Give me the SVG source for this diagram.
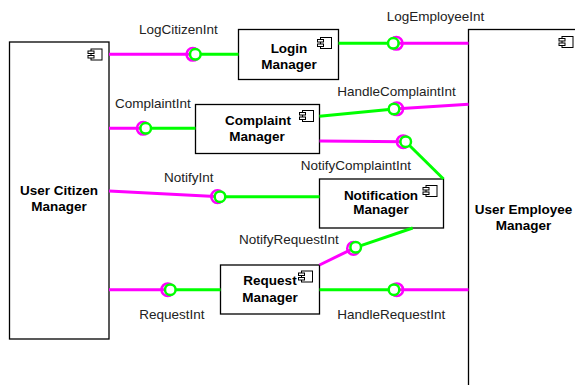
<svg xmlns="http://www.w3.org/2000/svg" xmlns:xlink="http://www.w3.org/1999/xlink" width="575" height="385" viewBox="0 0 575 385">
<style>
.box{fill:#fff;stroke:#000;stroke-width:1.3}
.ttl{font-family:"Liberation Sans",Arial,sans-serif;font-size:13.5px;font-weight:bold;text-anchor:middle;fill:#000}
.lbl{font-family:"Liberation Sans",Arial,sans-serif;font-size:13.5px;fill:#222}
.m{stroke:#ff00ff;stroke-width:3;fill:none}
.g{stroke:#00ff00;stroke-width:3;fill:none}
.sock{stroke:#ff00ff;stroke-width:2.5;fill:none}
.ball{stroke:#00ff00;stroke-width:2.5;fill:#fff}
</style>
<defs>
<g id="cmp">
<rect x="3" y="0" width="11" height="11" fill="#fff" stroke="#000" stroke-width="1"/>
<rect x="0" y="2" width="6" height="2.5" fill="#fff" stroke="#000" stroke-width="1"/>
<rect x="0" y="6.5" width="6" height="2.5" fill="#fff" stroke="#000" stroke-width="1"/>
</g>
</defs>
<rect width="575" height="385" fill="#fff"/>
<g id="nodes">
<g id="userCitizen">
<rect class="box" x="9.5" y="42" width="99.5" height="297"/>
<use xlink:href="#cmp" x="88" y="49"/>
<text class="ttl" x="59" y="195">User Citizen</text>
<text class="ttl" x="59" y="211">Manager</text>
</g>
<g id="login">
<rect class="box" x="238.5" y="29.5" width="100" height="50"/>
<use xlink:href="#cmp" x="317.5" y="37.5"/>
<text class="ttl" x="289" y="53">Login</text>
<text class="ttl" x="289" y="69">Manager</text>
</g>
<g id="complaint">
<rect class="box" x="195.5" y="104.5" width="124" height="49"/>
<use xlink:href="#cmp" x="299.5" y="110.5"/>
<text class="ttl" x="258" y="125">Complaint</text>
<text class="ttl" x="257" y="141">Manager</text>
</g>
<g id="notification">
<rect class="box" x="319.5" y="179" width="124" height="49"/>
<use xlink:href="#cmp" x="423" y="185.5"/>
<text class="ttl" x="381" y="199.5">Notification</text>
<text class="ttl" x="381" y="214">Manager</text>
</g>
<g id="request">
<rect class="box" x="220.5" y="265" width="99" height="49"/>
<use xlink:href="#cmp" x="298.5" y="271"/>
<text class="ttl" x="270" y="285">Request</text>
<text class="ttl" x="270" y="301.5">Manager</text>
</g>
<g id="userEmployee">
<rect class="box" x="468.5" y="29.5" width="110" height="400"/>
<use xlink:href="#cmp" x="559" y="36.5"/>
<text class="ttl" x="523.5" y="214">User Employee</text>
<text class="ttl" x="523.5" y="229.5">Manager</text>
</g>
</g>
<g id="connectors">
<line class="m" x1="109" y1="54.3" x2="195.3" y2="54.3"/>
<line class="g" x1="195.3" y1="54.3" x2="238.5" y2="54.3"/>
<line class="g" x1="338.5" y1="43.3" x2="393.3" y2="43.3"/>
<line class="m" x1="393.3" y1="43.3" x2="468.5" y2="43.3"/>
<line class="m" x1="109" y1="128.3" x2="145.7" y2="128.3"/>
<line class="g" x1="145.7" y1="128.3" x2="195.5" y2="128.3"/>
<line class="g" x1="319.5" y1="116.3" x2="394" y2="109"/>
<line class="m" x1="394" y1="109" x2="468.5" y2="104.3"/>
<line class="m" x1="319.5" y1="141" x2="405.7" y2="141.7"/>
<line class="g" x1="405.7" y1="141.7" x2="443.5" y2="179"/>
<line class="m" x1="109" y1="191" x2="220" y2="196.7"/>
<line class="g" x1="220" y1="196.7" x2="319.5" y2="196.7"/>
<line class="g" x1="412.7" y1="228" x2="355.7" y2="247.3"/>
<line class="m" x1="355.7" y1="247.3" x2="319.5" y2="265"/>
<line class="m" x1="109" y1="289.7" x2="170.3" y2="289.7"/>
<line class="g" x1="170.3" y1="289.7" x2="220.5" y2="289.7"/>
<line class="g" x1="319.5" y1="289.7" x2="394" y2="289.7"/>
<line class="m" x1="394" y1="289.7" x2="468.5" y2="289.7"/>
<circle class="sock" cx="192.8" cy="54.3" r="6.3"/>
<circle class="ball" cx="195.3" cy="54.3" r="5.3"/>
<circle class="sock" cx="396.3" cy="43.3" r="6.3"/>
<circle class="ball" cx="393.3" cy="43.3" r="5.3"/>
<circle class="sock" cx="143.2" cy="128.3" r="6.3"/>
<circle class="ball" cx="145.7" cy="128.3" r="5.3"/>
<circle class="sock" cx="396.8" cy="108.8" r="6.3"/>
<circle class="ball" cx="394" cy="109" r="5.3"/>
<circle class="sock" cx="403.2" cy="141.7" r="6.3"/>
<circle class="ball" cx="405.7" cy="141.7" r="5.3"/>
<circle class="sock" cx="217.5" cy="196.6" r="6.3"/>
<circle class="ball" cx="220" cy="196.7" r="5.3"/>
<circle class="sock" cx="353.5" cy="248.4" r="6.3"/>
<circle class="ball" cx="355.7" cy="247.3" r="5.3"/>
<circle class="sock" cx="167.8" cy="289.7" r="6.3"/>
<circle class="ball" cx="170.3" cy="289.7" r="5.3"/>
<circle class="sock" cx="396.8" cy="289.7" r="6.3"/>
<circle class="ball" cx="394" cy="289.7" r="5.3"/>
<text class="lbl" x="139" y="34">LogCitizenInt</text>
<text class="lbl" x="386.7" y="21">LogEmployeeInt</text>
<text class="lbl" x="115" y="108.3">ComplaintInt</text>
<text class="lbl" x="337.3" y="96">HandleComplaintInt</text>
<text class="lbl" x="300.7" y="169.5">NotifyComplaintInt</text>
<text class="lbl" x="164" y="182">NotifyInt</text>
<text class="lbl" x="239" y="244.3">NotifyRequestInt</text>
<text class="lbl" x="139.3" y="319.3">RequestInt</text>
<text class="lbl" x="337.3" y="319.3">HandleRequestInt</text>
</g>
</svg>
